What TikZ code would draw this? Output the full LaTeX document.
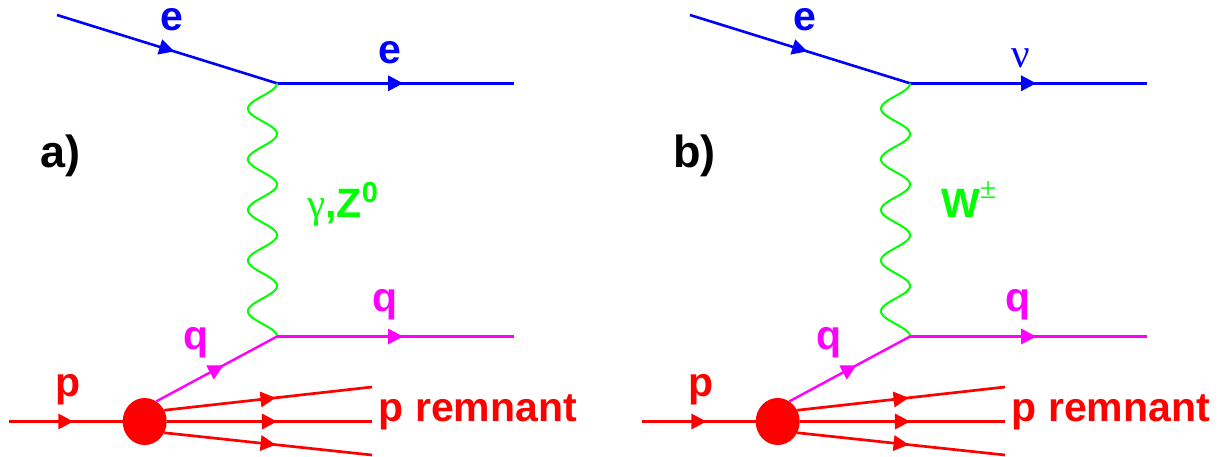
\documentclass[tikz,border=0pt]{standalone}
\usepackage{fontspec}
\setmainfont{Liberation Sans}
\newfontfamily\grk{Liberation Serif}
\usetikzlibrary{shapes.geometric,decorations.markings}
\definecolor{fgreen}{RGB}{0,255,0}
\definecolor{fblue}{RGB}{0,0,255}
\definecolor{fmag}{RGB}{255,0,255}
\definecolor{fred}{RGB}{255,0,0}
\tikzset{
  midarrow/.style={postaction={decorate,decoration={markings,
      mark=at position 0.5 with {\fill[#1] (7.5pt,0pt) -- (-7.5pt,8pt) -- (-7.5pt,-8pt) -- cycle;}}}},
  eline/.style={fblue, line width=2.6pt, midarrow=fblue},
  qline/.style={fmag, line width=2.4pt, midarrow=fmag},
  pline/.style={fred, line width=2.7pt, midarrow=fred},
  wline/.style={fgreen, line width=2pt},
  blob/.style={ellipse, fill=fred, minimum width=44pt, minimum height=47pt, inner sep=0pt},
  lbl/.style={inner sep=0pt, anchor=base, font=\fontsize{41}{41}\selectfont\bfseries},
  lblw/.style={lbl, anchor=base west},
  panel/.style={inner sep=0pt, anchor=base west, font=\fontsize{45}{45}\selectfont\bfseries},
}
\begin{document}
\begin{tikzpicture}[x=1pt,y=-1pt]
\useasboundingbox (0,0) rectangle (1220,457);
% ---------- panel a ----------
\coordinate (ea1) at (57,15);
\coordinate (va1) at (277,83.3);
\coordinate (ea2) at (514,83.3);
\coordinate (va2) at (277,336.5);
\coordinate (qa2) at (514,336.5);
\coordinate (pa0) at (9,421.5);
\node[blob] (ba) at (144.7,421.5) {};
\coordinate (ra1) at (372,387);
\coordinate (ra2) at (372,421.5);
\coordinate (ra3) at (372,455);
\draw[eline] (ea1) -- (va1);
\draw[eline] (va1) -- (ea2);
\draw[wline] plot[domain=0:1,samples=301,smooth] ({262.5+14.5*cos(1800*\x)},{83.3+253.2*\x});
\draw[qline] (ba.60) -- (va2);
\draw[qline] (va2) -- (qa2);
\draw[pline] (pa0) -- (ba);
\draw[pline] (ba.30) -- (ra1);
\draw[pline] (ba.east) -- (ra2);
\draw[pline] (ba.-30) -- (ra3);
\node[lbl, fblue] (la1) at (172,31) {e};
\node[lbl, fblue] (la2) at (390,64) {e};
\node[panel] (la3) at (40,168) {a)};
\node[lblw, fgreen] (la4) at (307,218) {{\grk\mdseries γ},Z\raisebox{15pt}{\fontsize{29}{29}\selectfont 0}};
\node[lbl, fmag] (la5) at (385,311) {q};
\node[lbl, fmag] (la6) at (196,349) {q};
\node[lbl, fred] (la7) at (68,396) {p};
\node[lblw, fred] (la8) at (378.5,421.5) {p remnant};
% ---------- panel b ----------
\coordinate (eb1) at (690,15);
\coordinate (vb1) at (910,83.3);
\coordinate (eb2) at (1147,83.3);
\coordinate (vb2) at (910,336.5);
\coordinate (qb2) at (1147,336.5);
\coordinate (pb0) at (642,421.5);
\node[blob] (bb) at (777.7,421.5) {};
\coordinate (rb1) at (1005,387);
\coordinate (rb2) at (1005,421.5);
\coordinate (rb3) at (1005,455);
\draw[eline] (eb1) -- (vb1);
\draw[eline] (vb1) -- (eb2);
\draw[wline] plot[domain=0:1,samples=301,smooth] ({895.5+14.5*cos(1800*\x)},{83.3+253.2*\x});
\draw[qline] (bb.60) -- (vb2);
\draw[qline] (vb2) -- (qb2);
\draw[pline] (pb0) -- (bb);
\draw[pline] (bb.30) -- (rb1);
\draw[pline] (bb.east) -- (rb2);
\draw[pline] (bb.-30) -- (rb3);
\node[lbl, fblue] (lb1) at (805,31) {e};
\node[lbl, fblue, font=\fontsize{41}{41}\selectfont\grk] (lb2) at (1021,68) {ν};
\node[panel] (lb3) at (673,168) {b)};
\node[lblw, fgreen] (lb4) at (941,217) {W\raisebox{19pt}{\grk\mdseries\fontsize{30}{30}\selectfont ±}};
\node[lbl, fmag] (lb5) at (1018,311) {q};
\node[lbl, fmag] (lb6) at (829,349) {q};
\node[lbl, fred] (lb7) at (701,396) {p};
\node[lblw, fred] (lb8) at (1011.5,421.5) {p remnant};
\end{tikzpicture}
\end{document}
